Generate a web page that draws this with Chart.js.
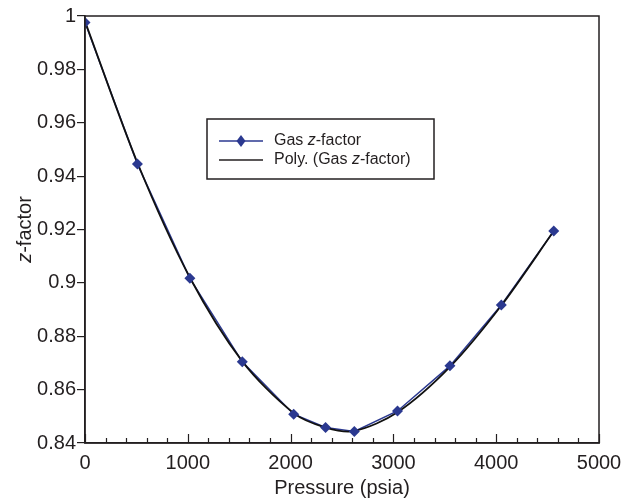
<!DOCTYPE html>
<html lang="en">
<head>
<meta charset="utf-8">
<title>Gas z-factor vs Pressure</title>
<script src="https://cdn.jsdelivr.net/npm/chart.js"></script>
<style>
  html, body { margin: 0; padding: 0; background: #fff; }
  #wrap { width: 633px; height: 500px; }
</style>
</head>
<body>
<div id="wrap"><canvas id="zChart"></canvas></div>
<script>
    // measured gas z-factor
    const pressure = [0, 510, 1020, 1530, 2030, 2340, 2620, 3040, 3550, 4050, 4560];
    const zFactor = [0.9976, 0.9445, 0.9017, 0.8704, 0.8508, 0.8458, 0.8443, 0.8520, 0.8689, 0.8917, 0.9194];

    // polynomial trend line, read at the same pressures
    const trendZ = [0.9980, 0.9450, 0.9020, 0.8706, 0.8512, 0.8458, 0.8445, 0.8515, 0.8685, 0.8915, 0.9194];

    const xTickLabels = ['0', '1000', '2000', '3000', '4000', '5000'];
    const yTickLabels = ['0.84', '0.86', '0.88', '0.9', '0.92', '0.94', '0.96', '0.98', '1'];

    const navy = '#2b3990';
    const ink = '#231f20';
    const font = '"Liberation Sans", Arial, Helvetica, sans-serif';

    const toPoints = (xs, ys) => xs.map((x, i) => ({x: x, y: ys[i]}));

    // box, inward x ticks, y title and the legend with italic z
    const decorations = {
        id: 'decorations',
        afterDraw(chart) {
            const ctx = chart.ctx;
            const a = chart.chartArea;
            const xs = chart.scales.x;
            ctx.save();
            ctx.strokeStyle = ink;
            ctx.lineWidth = 1.5;
            ctx.strokeRect(a.left, a.top, a.right - a.left, a.bottom - a.top);

            ctx.lineWidth = 1.2;
            ctx.beginPath();
            for (let v = 0; v <= 5000; v += 200) {
                const px = Math.round(xs.getPixelForValue(v)) + 0.5;
                const len = v % 1000 === 0 ? 9 : 5;
                ctx.moveTo(px, a.bottom);
                ctx.lineTo(px, a.bottom - len);
            }
            ctx.stroke();

            ctx.fillStyle = ink;
            ctx.textBaseline = 'middle';

            // y axis title
            ctx.save();
            ctx.translate(25, (a.top + a.bottom) / 2);
            ctx.rotate(-Math.PI / 2);
            drawMixed(ctx, [['italic', 'z'], ['normal', '-factor']], 20, 0, 0, 'center');
            ctx.restore();

            // legend
            const lx = a.left + 122, ly = a.top + 103;
            ctx.fillStyle = '#fff';
            ctx.fillRect(lx, ly, 227, 60);
            ctx.lineWidth = 1.5;
            ctx.strokeStyle = ink;
            ctx.strokeRect(lx, ly, 227, 60);

            ctx.strokeStyle = navy;
            ctx.lineWidth = 1.5;
            ctx.beginPath();
            ctx.moveTo(lx + 12, ly + 22);
            ctx.lineTo(lx + 56, ly + 22);
            ctx.stroke();
            ctx.fillStyle = navy;
            ctx.beginPath();
            ctx.moveTo(lx + 34, ly + 22 - 6);
            ctx.lineTo(lx + 38.5, ly + 22);
            ctx.lineTo(lx + 34, ly + 22 + 6);
            ctx.lineTo(lx + 29.5, ly + 22);
            ctx.closePath();
            ctx.fill();

            ctx.strokeStyle = ink;
            ctx.beginPath();
            ctx.moveTo(lx + 12, ly + 41);
            ctx.lineTo(lx + 56, ly + 41);
            ctx.stroke();

            ctx.fillStyle = ink;
            drawMixed(ctx, [['normal', 'Gas '], ['italic', 'z'], ['normal', '-factor']], 16, lx + 67, ly + 22, 'left');
            drawMixed(ctx, [['normal', 'Poly. (Gas '], ['italic', 'z'], ['normal', '-factor)']], 16, lx + 67, ly + 41, 'left');
            ctx.restore();
        }
    };

    function drawMixed(ctx, parts, size, x, y, align) {
        let total = 0;
        parts.forEach(p => {
            ctx.font = p[0] + ' ' + size + 'px ' + font;
            total += ctx.measureText(p[1]).width;
        });
        let cx = align === 'center' ? x - total / 2 : x;
        ctx.textAlign = 'left';
        parts.forEach(p => {
            ctx.font = p[0] + ' ' + size + 'px ' + font;
            ctx.fillText(p[1], cx, y);
            cx += ctx.measureText(p[1]).width;
        });
    }

    const ctx = document.getElementById('zChart').getContext('2d');
    new Chart(ctx, {
        type: 'scatter',
        data: {
            datasets: [{
                label: 'Gas z-factor markers',
                data: toPoints(pressure, zFactor),
                showLine: false,
                pointStyle: 'rectRot',
                pointRadius: 5.5,
                backgroundColor: navy,
                borderColor: navy,
                borderWidth: 0,
                order: 0
            }, {
                label: 'Poly. (Gas z-factor)',
                data: toPoints(pressure, trendZ),
                showLine: true,
                tension: 0.3,
                borderColor: '#111',
                borderWidth: 1.8,
                pointRadius: 0,
                order: 1
            }, {
                label: 'Gas z-factor',
                data: toPoints(pressure, zFactor),
                showLine: true,
                borderColor: navy,
                borderWidth: 1.5,
                pointRadius: 0,
                order: 2
            }]
        },
        options: {
            responsive: true,
            maintainAspectRatio: false,
            animation: false,
            layout: {padding: {left: 0, top: 16, right: 34, bottom: 0}},
            plugins: {
                legend: {display: false},
                tooltip: {enabled: false}
            },
            scales: {
                x: {
                    type: 'linear',
                    min: 0,
                    max: 5000,
                    afterFit(scale) { scale.height = 57; },
                    afterBuildTicks(scale) {
                        scale.ticks = xTickLabels.map(t => ({value: Number(t)}));
                    },
                    ticks: {
                        color: ink,
                        padding: 8,
                        maxRotation: 0,
                        font: {family: font, size: 20},
                        callback: (v, i) => xTickLabels[i]
                    },
                    grid: {display: false, drawTicks: false},
                    border: {display: true, color: ink, width: 1.5},
                    title: {
                        display: true,
                        text: 'Pressure (psia)',
                        color: ink,
                        padding: {top: 0, bottom: 0},
                        font: {family: font, size: 20}
                    }
                },
                y: {
                    min: 0.84,
                    max: 1,
                    afterFit(scale) { scale.width = 85; },
                    afterBuildTicks(scale) {
                        scale.ticks = yTickLabels.map(t => ({value: Number(t)}));
                    },
                    ticks: {
                        color: ink,
                        padding: 1,
                        font: {family: font, size: 20},
                        callback: (v, i) => yTickLabels[i]
                    },
                    grid: {drawOnChartArea: false, drawTicks: true, tickLength: 8, color: ink, lineWidth: 1.2},
                    border: {display: true, color: ink, width: 1.5}
                }
            }
        },
        plugins: [decorations]
    });
</script>
</body>
</html>
